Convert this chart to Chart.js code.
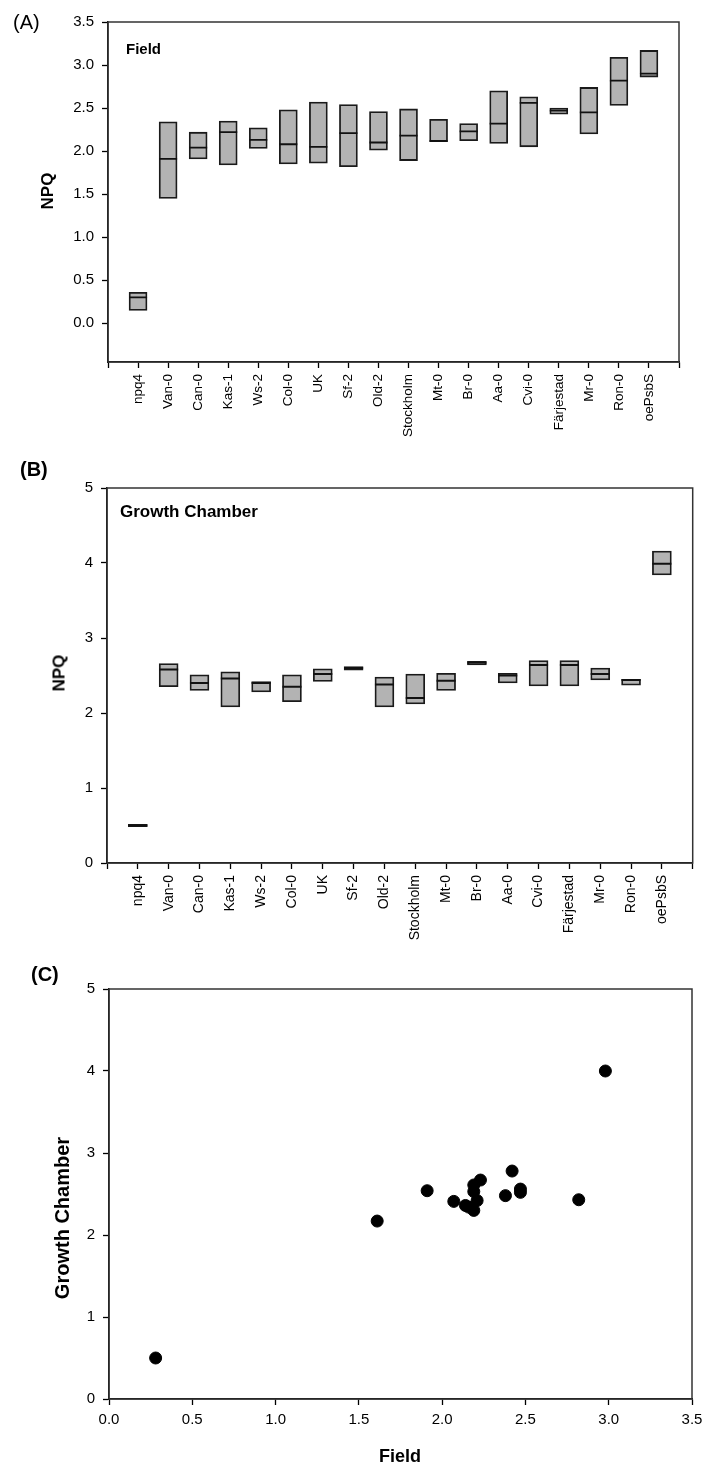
<!DOCTYPE html>
<html>
<head>
<meta charset="utf-8">
<script src="https://cdn.jsdelivr.net/npm/chart.js@4.4.1/dist/chart.umd.min.js"></script>
<style>
  body { margin: 0; background: #fff; width: 704px; height: 1467px; position: relative; overflow: hidden;
         font-family: "Liberation Sans", Arial, sans-serif; color: #000; }
  .panel { position: absolute; left: 0; width: 704px; }
  .lbl { position: absolute; white-space: nowrap; line-height: 1; }
  .rot { transform: translate(-50%, -50%) rotate(-90deg); }
</style>
</head>
<body>

<div class="panel" style="top:0;height:445px"><canvas id="chartA" width="704" height="445"></canvas></div>
<div class="panel" style="top:440px;height:520px"><canvas id="chartB" width="704" height="520"></canvas></div>
<div class="panel" style="top:960px;height:507px"><canvas id="chartC" width="704" height="507"></canvas></div>

<!-- panel letters, in-plot labels and axis titles -->
<div class="lbl" style="left:13px;top:12px;font-size:20px">(A)</div>
<div class="lbl" style="left:126px;top:41px;font-size:15px;font-weight:bold">Field</div>
<div class="lbl rot" style="left:47px;top:191px;font-size:17px;font-weight:bold">NPQ</div>

<div class="lbl" style="left:20px;top:459px;font-size:20px;font-weight:bold">(B)</div>
<div class="lbl" style="left:120px;top:503px;font-size:17px;font-weight:bold">Growth Chamber</div>
<div class="lbl rot" style="left:59px;top:673px;font-size:17px;font-weight:bold">NPQ</div>

<div class="lbl" style="left:31px;top:964px;font-size:20px;font-weight:bold">(C)</div>
<div class="lbl rot" style="left:62px;top:1218px;font-size:20px;font-weight:bold">Growth Chamber</div>
<div class="lbl" style="left:400px;top:1456px;font-size:18px;font-weight:bold;transform:translate(-50%,-50%)">Field</div>

<script>
// genotypes, left to right
const categories = ['npq4', 'Van-0', 'Can-0', 'Kas-1', 'Ws-2', 'Col-0', 'UK', 'Sf-2', 'Old-2', 'Stockholm',
                    'Mt-0', 'Br-0', 'Aa-0', 'Cvi-0', 'Färjestad', 'Mr-0', 'Ron-0', 'oePsbS'];

// (A) Field NPQ: box bottom, median, top
const fieldLow    = [0.15, 1.45, 1.91, 1.84, 2.03, 1.85, 1.86, 1.82, 2.01, 1.89, 2.11, 2.12, 2.09, 2.05, 2.43, 2.20, 2.53, 2.86];
const fieldMedian = [0.30, 1.91, 2.04, 2.22, 2.13, 2.08, 2.05, 2.21, 2.10, 2.18, 2.12, 2.23, 2.32, 2.56, 2.47, 2.45, 2.82, 2.90];
const fieldHigh   = [0.36, 2.34, 2.22, 2.35, 2.27, 2.48, 2.57, 2.54, 2.46, 2.49, 2.37, 2.32, 2.70, 2.63, 2.50, 2.74, 3.09, 3.17];

// (B) Growth chamber NPQ: box bottom, median, top
const chamberLow    = [0.485, 2.35, 2.30, 2.08, 2.28, 2.15, 2.42, 2.57, 2.08, 2.12, 2.30, 2.64, 2.40, 2.36, 2.36, 2.44, 2.37, 3.84];
const chamberMedian = [0.50, 2.58, 2.40, 2.46, 2.40, 2.35, 2.52, 2.60, 2.38, 2.20, 2.43, 2.67, 2.50, 2.64, 2.64, 2.52, 2.44, 3.99];
const chamberHigh   = [0.515, 2.66, 2.51, 2.55, 2.42, 2.51, 2.59, 2.62, 2.48, 2.52, 2.53, 2.69, 2.53, 2.70, 2.70, 2.60, 2.45, 4.16];

// (C) field vs growth chamber
const scatterField   = [0.28, 1.61, 1.91, 2.07, 2.14, 2.16, 2.19, 2.21, 2.19, 2.19, 2.23, 2.38, 2.42, 2.47, 2.47, 2.82, 2.98];
const scatterChamber = [0.50, 2.17, 2.54, 2.41, 2.36, 2.34, 2.30, 2.42, 2.53, 2.61, 2.67, 2.48, 2.78, 2.56, 2.52, 2.43, 4.00];

// tick labels
const fieldTicks   = [0, 0.5, 1, 1.5, 2, 2.5, 3, 3.5];
const chamberTicks = [0, 1, 2, 3, 4, 5];

const FONT = '"Liberation Sans", Arial, sans-serif';

// closes the plot box (top and right edges)
const framePlugin = {
  id: 'frame',
  afterDraw(chart) {
    const { ctx, chartArea: a } = chart;
    ctx.save();
    ctx.strokeStyle = '#333';
    ctx.lineWidth = 1.5;
    ctx.strokeRect(a.left, a.top, a.right - a.left, a.bottom - a.top);
    ctx.restore();
  }
};

function axisGrid() {
  return { display: true, drawOnChartArea: false, drawTicks: true, tickLength: 6, tickColor: '#000', tickWidth: 1.3, offset: false };
}

// fixed axis thickness, and no extra room asked for overhanging labels
function fixHeight(h) {
  return s => { s.height = h; s.paddingLeft = 0; s.paddingRight = 0; };
}
function fixWidth(w) {
  return s => { s.width = w; s.paddingTop = 0; s.paddingBottom = 0; };
}

function boxChart(id, low, med, high, opt) {
  const pad = arr => [null, ...arr, null];
  return new Chart(document.getElementById(id), {
    type: 'bar',
    data: {
      labels: ['', ...categories, ''],
      datasets: [
        {
          type: 'line', order: 0,
          data: pad(med), showLine: false,
          pointStyle: 'line', pointRadius: opt.bar / 2, pointHoverRadius: opt.bar / 2,
          pointBorderColor: '#111', pointBorderWidth: 1.8
        },
        {
          type: 'bar', order: 1,
          data: pad(low.map((v, i) => [v, high[i]])),
          backgroundColor: '#b3b3b3', borderColor: '#1a1a1a', borderWidth: 1.8,
          borderSkipped: false, barThickness: opt.bar
        }
      ]
    },
    options: {
      responsive: false, animation: false,
      layout: { padding: opt.padding },
      plugins: { legend: { display: false }, tooltip: { enabled: false } },
      scales: {
        x: {
          type: 'category', offset: false,
          grid: axisGrid(),
          border: { display: true, color: '#000', width: 1.5 },
          ticks: { autoSkip: false, maxRotation: 90, minRotation: 90, padding: 6, color: '#000',
                   font: { family: FONT, size: opt.xFont } },
          afterFit: fixHeight(opt.xHeight)
        },
        y: {
          type: 'linear', min: opt.yMin, max: opt.yMax,
          grid: axisGrid(),
          border: { display: true, color: '#000', width: 1.5 },
          afterBuildTicks: s => { s.ticks = opt.yTicks.map(v => ({ value: v })); },
          ticks: { padding: 8, color: '#000', font: { family: FONT, size: opt.yFont },
                   callback: v => v.toFixed(opt.decimals) },
          afterFit: fixWidth(opt.yWidth)
        }
      }
    },
    plugins: [framePlugin]
  });
}

// (A) Field
boxChart('chartA', fieldLow, fieldMedian, fieldHigh, {
  bar: 18, yMin: -0.45, yMax: 3.5, yTicks: fieldTicks, decimals: 1,
  padding: { top: 22, right: 25, bottom: 0, left: 0 },
  xHeight: 83, yWidth: 108, xFont: 13.5, yFont: 15
});

// (B) Growth chamber
boxChart('chartB', chamberLow, chamberMedian, chamberHigh, {
  bar: 19, yMin: 0, yMax: 5, yTicks: chamberTicks, decimals: 0,
  padding: { top: 48, right: 10, bottom: 0, left: 0 },
  xHeight: 97, yWidth: 107, xFont: 14, yFont: 15
});

// (C) scatter
new Chart(document.getElementById('chartC'), {
  type: 'scatter',
  data: {
    datasets: [{
      data: scatterField.map((x, i) => ({ x, y: scatterChamber[i] })),
      backgroundColor: '#000', borderColor: '#000', pointRadius: 6, pointHoverRadius: 6
    }]
  },
  options: {
    responsive: false, animation: false,
    layout: { padding: { top: 29, right: 12, bottom: 0, left: 0 } },
    plugins: { legend: { display: false }, tooltip: { enabled: false } },
    scales: {
      x: {
        type: 'linear', min: 0, max: 3.5,
        grid: axisGrid(),
        border: { display: true, color: '#000', width: 1.5 },
        afterBuildTicks: s => { s.ticks = fieldTicks.map(v => ({ value: v })); },
        ticks: { padding: 6, color: '#000', font: { family: FONT, size: 15 }, callback: v => v.toFixed(1) },
        afterFit: fixHeight(68)
      },
      y: {
        type: 'linear', min: 0, max: 5,
        grid: axisGrid(),
        border: { display: true, color: '#000', width: 1.5 },
        afterBuildTicks: s => { s.ticks = chamberTicks.map(v => ({ value: v })); },
        ticks: { padding: 8, color: '#000', font: { family: FONT, size: 15 }, callback: v => String(v) },
        afterFit: fixWidth(109)
      }
    }
  },
  plugins: [framePlugin]
});
</script>
</body>
</html>
